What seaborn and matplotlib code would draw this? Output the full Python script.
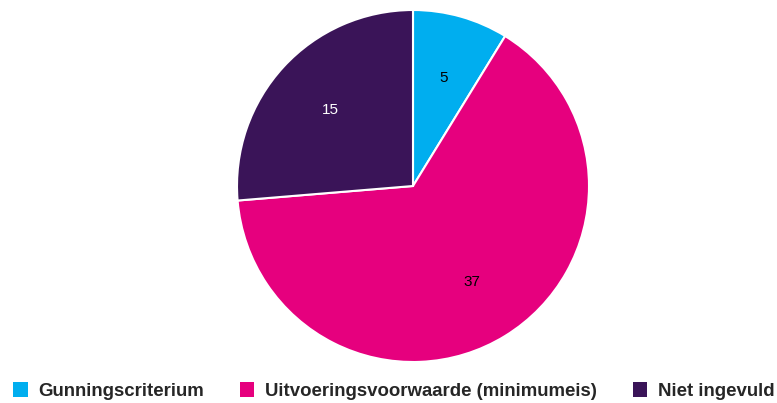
import matplotlib
matplotlib.use("Agg")
import matplotlib.pyplot as plt
from matplotlib.patches import Patch
import seaborn as sns

labels = ["Gunningscriterium", "Uitvoeringsvoorwaarde (minimumeis)", "Niet ingevuld"]
values = [5, 37, 15]
colors = ["#00AEEF", "#E6007E", "#3A1458"]
text_colors = ["black", "black", "white"]

sns.set_theme(style="white")
plt.rcParams["font.family"] = ["Liberation Sans", "DejaVu Sans"]

fig = plt.figure(figsize=(7.77, 4.03), dpi=100)
ax = fig.add_axes([413 / 777 - 176 / 777, 1 - 362 / 403, 352 / 777, 352 / 403])

wedges, texts = ax.pie(values, colors=colors, startangle=90, counterclock=False,
                       labels=[str(v) for v in values], labeldistance=0.64,
                       radius=1, wedgeprops=dict(edgecolor="white", linewidth=1.5))
for t, c in zip(texts, text_colors):
    t.set_color(c)
    t.set_fontsize(11)
    t.set_horizontalalignment("center")
ax.set_xlim(-1, 1)
ax.set_ylim(-1, 1)
ax.set_aspect("equal")
ax.axis("off")

handles = [Patch(facecolor=c, edgecolor="none") for c in colors]
fig.legend(handles, labels, loc="lower left", bbox_to_anchor=(13 / 777, 0.008), ncol=3,
           frameon=False, borderpad=0, borderaxespad=0,
           handlelength=0.78, handleheight=0.85, handletextpad=0.6,
           columnspacing=1.9, prop=dict(weight="bold", size=13.4))

fig.savefig("out.png", dpi=100)
